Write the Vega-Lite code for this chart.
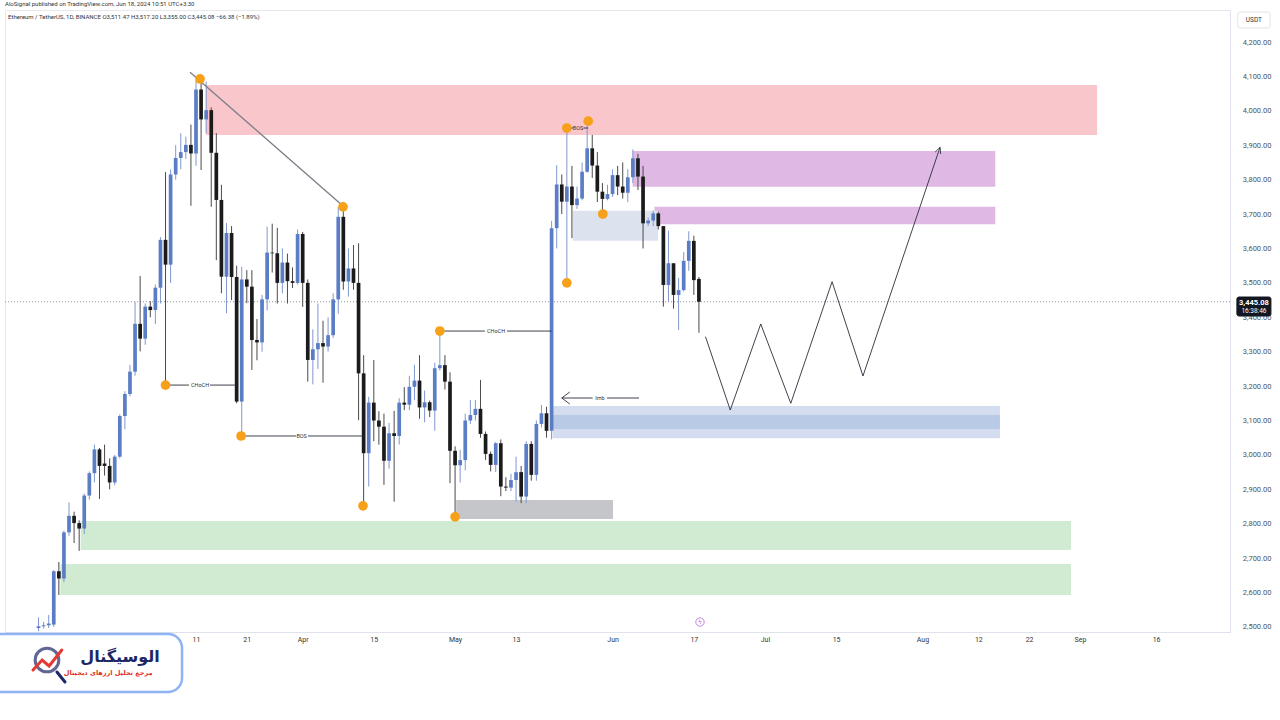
{
  "$schema": "https://vega.github.io/schema/vega-lite/v6.json",
  "width": 1225,
  "height": 622,
  "autosize": {"type": "none"},
  "padding": {"left": 5, "top": 10, "right": 50, "bottom": 88},
  "background": "white",
  "config": {"view": {"stroke": "#e6e8ee"}, "font": "Roboto", "axis": {"grid": false}, "axisY": {"labelOverlap": false}, "axisX": {"labelOverlap": false}, "bar": {"continuousBandSize": 3.7}, "scale": {"continuousPadding": 0}},
  "datasets": {
    "candles": [
      {"d":"2024-02-09","o":2497,"h":2528,"l":2488,"c":2502},
      {"d":"2024-02-10","o":2502,"h":2515,"l":2495,"c":2505},
      {"d":"2024-02-11","o":2505,"h":2535,"l":2497,"c":2510},
      {"d":"2024-02-12","o":2507,"h":2665,"l":2500,"c":2662},
      {"d":"2024-02-13","o":2662,"h":2689,"l":2593,"c":2641},
      {"d":"2024-02-14","o":2641,"h":2780,"l":2630,"c":2775},
      {"d":"2024-02-15","o":2775,"h":2862,"l":2765,"c":2823},
      {"d":"2024-02-16","o":2823,"h":2835,"l":2744,"c":2802},
      {"d":"2024-02-17","o":2802,"h":2810,"l":2721,"c":2786},
      {"d":"2024-02-18","o":2786,"h":2888,"l":2770,"c":2882},
      {"d":"2024-02-19","o":2882,"h":2952,"l":2870,"c":2947},
      {"d":"2024-02-20","o":2947,"h":3030,"l":2920,"c":3016},
      {"d":"2024-02-21","o":3016,"h":3020,"l":2872,"c":2968},
      {"d":"2024-02-22","o":2975,"h":3030,"l":2940,"c":2968},
      {"d":"2024-02-23","o":2968,"h":2990,"l":2900,"c":2920},
      {"d":"2024-02-24","o":2920,"h":3000,"l":2912,"c":2995},
      {"d":"2024-02-25","o":2995,"h":3118,"l":2990,"c":3113},
      {"d":"2024-02-26","o":3113,"h":3185,"l":3075,"c":3177},
      {"d":"2024-02-27","o":3177,"h":3262,"l":3170,"c":3242},
      {"d":"2024-02-28","o":3242,"h":3445,"l":3230,"c":3381},
      {"d":"2024-02-29","o":3381,"h":3520,"l":3301,"c":3338},
      {"d":"2024-03-01","o":3338,"h":3440,"l":3320,"c":3431},
      {"d":"2024-03-02","o":3431,"h":3447,"l":3400,"c":3421},
      {"d":"2024-03-03","o":3421,"h":3495,"l":3380,"c":3486},
      {"d":"2024-03-04","o":3486,"h":3633,"l":3440,"c":3625},
      {"d":"2024-03-05","o":3625,"h":3822,"l":3203,"c":3553},
      {"d":"2024-03-06","o":3553,"h":3830,"l":3500,"c":3815},
      {"d":"2024-03-07","o":3815,"h":3900,"l":3800,"c":3863},
      {"d":"2024-03-08","o":3863,"h":3935,"l":3830,"c":3880},
      {"d":"2024-03-09","o":3880,"h":3925,"l":3860,"c":3901},
      {"d":"2024-03-10","o":3901,"h":3960,"l":3724,"c":3876},
      {"d":"2024-03-11","o":3876,"h":4088,"l":3840,"c":4062},
      {"d":"2024-03-12","o":4062,"h":4093,"l":3828,"c":3975},
      {"d":"2024-03-13","o":3975,"h":4085,"l":3935,"c":4002},
      {"d":"2024-03-14","o":4002,"h":4010,"l":3721,"c":3878},
      {"d":"2024-03-15","o":3878,"h":3935,"l":3566,"c":3741},
      {"d":"2024-03-16","o":3741,"h":3785,"l":3470,"c":3518},
      {"d":"2024-03-17","o":3518,"h":3674,"l":3412,"c":3645},
      {"d":"2024-03-18","o":3645,"h":3665,"l":3450,"c":3517},
      {"d":"2024-03-19","o":3517,"h":3550,"l":3150,"c":3155},
      {"d":"2024-03-20","o":3155,"h":3547,"l":3055,"c":3510},
      {"d":"2024-03-21","o":3510,"h":3537,"l":3441,"c":3489},
      {"d":"2024-03-22","o":3489,"h":3537,"l":3247,"c":3334},
      {"d":"2024-03-23","o":3334,"h":3395,"l":3275,"c":3327},
      {"d":"2024-03-24","o":3327,"h":3465,"l":3300,"c":3452},
      {"d":"2024-03-25","o":3452,"h":3663,"l":3420,"c":3588},
      {"d":"2024-03-26","o":3588,"h":3672,"l":3530,"c":3586},
      {"d":"2024-03-27","o":3586,"h":3660,"l":3440,"c":3500},
      {"d":"2024-03-28","o":3500,"h":3600,"l":3470,"c":3559},
      {"d":"2024-03-29","o":3559,"h":3585,"l":3440,"c":3505},
      {"d":"2024-03-30","o":3505,"h":3545,"l":3485,"c":3500},
      {"d":"2024-03-31","o":3500,"h":3655,"l":3495,"c":3642},
      {"d":"2024-04-01","o":3642,"h":3648,"l":3430,"c":3500},
      {"d":"2024-04-02","o":3500,"h":3510,"l":3213,"c":3276},
      {"d":"2024-04-03","o":3276,"h":3365,"l":3205,"c":3307},
      {"d":"2024-04-04","o":3307,"h":3440,"l":3250,"c":3325},
      {"d":"2024-04-05","o":3325,"h":3390,"l":3210,"c":3315},
      {"d":"2024-04-06","o":3315,"h":3400,"l":3300,"c":3348},
      {"d":"2024-04-07","o":3348,"h":3470,"l":3340,"c":3452},
      {"d":"2024-04-08","o":3452,"h":3721,"l":3410,"c":3692},
      {"d":"2024-04-09","o":3692,"h":3721,"l":3480,"c":3504},
      {"d":"2024-04-10","o":3504,"h":3600,"l":3460,"c":3542},
      {"d":"2024-04-11","o":3542,"h":3610,"l":3480,"c":3500},
      {"d":"2024-04-12","o":3500,"h":3615,"l":3101,"c":3237},
      {"d":"2024-04-13","o":3237,"h":3290,"l":2852,"c":3005},
      {"d":"2024-04-14","o":3005,"h":3169,"l":2908,"c":3152},
      {"d":"2024-04-15","o":3152,"h":3276,"l":3040,"c":3100},
      {"d":"2024-04-16","o":3100,"h":3127,"l":3030,"c":3082},
      {"d":"2024-04-17","o":3082,"h":3120,"l":2913,"c":2983},
      {"d":"2024-04-18","o":2983,"h":3093,"l":2960,"c":3063},
      {"d":"2024-04-19","o":3063,"h":3128,"l":2864,"c":3055},
      {"d":"2024-04-20","o":3055,"h":3165,"l":3030,"c":3152},
      {"d":"2024-04-21","o":3152,"h":3197,"l":3130,"c":3146},
      {"d":"2024-04-22","o":3146,"h":3230,"l":3130,"c":3198},
      {"d":"2024-04-23","o":3198,"h":3262,"l":3160,"c":3216},
      {"d":"2024-04-24","o":3216,"h":3290,"l":3105,"c":3138},
      {"d":"2024-04-25","o":3138,"h":3187,"l":3095,"c":3153},
      {"d":"2024-04-26","o":3153,"h":3158,"l":3110,"c":3129},
      {"d":"2024-04-27","o":3129,"h":3268,"l":3070,"c":3252},
      {"d":"2024-04-28","o":3252,"h":3355,"l":3245,"c":3261},
      {"d":"2024-04-29","o":3261,"h":3290,"l":3190,"c":3213},
      {"d":"2024-04-30","o":3213,"h":3240,"l":2918,"c":3012},
      {"d":"2024-05-01","o":3012,"h":3025,"l":2820,"c":2970},
      {"d":"2024-05-02","o":2970,"h":3015,"l":2920,"c":2985},
      {"d":"2024-05-03","o":2985,"h":3120,"l":2955,"c":3100},
      {"d":"2024-05-04","o":3100,"h":3160,"l":3090,"c":3116},
      {"d":"2024-05-05","o":3116,"h":3160,"l":3100,"c":3134},
      {"d":"2024-05-06","o":3134,"h":3218,"l":3050,"c":3061},
      {"d":"2024-05-07","o":3061,"h":3068,"l":2985,"c":3003},
      {"d":"2024-05-08","o":3003,"h":3010,"l":2952,"c":2971},
      {"d":"2024-05-09","o":2971,"h":3038,"l":2950,"c":3034},
      {"d":"2024-05-10","o":3034,"h":3045,"l":2880,"c":2908},
      {"d":"2024-05-11","o":2908,"h":2935,"l":2895,"c":2905},
      {"d":"2024-05-12","o":2905,"h":2945,"l":2895,"c":2927},
      {"d":"2024-05-13","o":2927,"h":2995,"l":2865,"c":2950},
      {"d":"2024-05-14","o":2950,"h":2968,"l":2860,"c":2879},
      {"d":"2024-05-15","o":2879,"h":3040,"l":2860,"c":3032},
      {"d":"2024-05-16","o":3032,"h":3040,"l":2925,"c":2942},
      {"d":"2024-05-17","o":2942,"h":3100,"l":2925,"c":3090},
      {"d":"2024-05-18","o":3090,"h":3145,"l":3080,"c":3121},
      {"d":"2024-05-19","o":3121,"h":3140,"l":3050,"c":3070},
      {"d":"2024-05-20","o":3070,"h":3680,"l":3045,"c":3659},
      {"d":"2024-05-21","o":3659,"h":3842,"l":3600,"c":3786},
      {"d":"2024-05-22","o":3786,"h":3815,"l":3700,"c":3736},
      {"d":"2024-05-23","o":3736,"h":3950,"l":3500,"c":3780},
      {"d":"2024-05-24","o":3780,"h":3840,"l":3630,"c":3726},
      {"d":"2024-05-25","o":3726,"h":3780,"l":3715,"c":3745},
      {"d":"2024-05-26","o":3745,"h":3850,"l":3740,"c":3823},
      {"d":"2024-05-27","o":3823,"h":3970,"l":3820,"c":3891},
      {"d":"2024-05-28","o":3891,"h":3930,"l":3805,"c":3841},
      {"d":"2024-05-29","o":3841,"h":3880,"l":3735,"c":3765},
      {"d":"2024-05-30","o":3765,"h":3790,"l":3700,"c":3744},
      {"d":"2024-05-31","o":3744,"h":3785,"l":3740,"c":3758},
      {"d":"2024-06-01","o":3758,"h":3830,"l":3750,"c":3813},
      {"d":"2024-06-02","o":3813,"h":3840,"l":3755,"c":3780},
      {"d":"2024-06-03","o":3780,"h":3850,"l":3745,"c":3762},
      {"d":"2024-06-04","o":3762,"h":3830,"l":3735,"c":3807},
      {"d":"2024-06-05","o":3807,"h":3888,"l":3790,"c":3862},
      {"d":"2024-06-06","o":3862,"h":3875,"l":3770,"c":3809},
      {"d":"2024-06-07","o":3809,"h":3840,"l":3600,"c":3673},
      {"d":"2024-06-08","o":3673,"h":3690,"l":3665,"c":3681},
      {"d":"2024-06-09","o":3681,"h":3710,"l":3665,"c":3702},
      {"d":"2024-06-10","o":3702,"h":3707,"l":3655,"c":3665},
      {"d":"2024-06-11","o":3665,"h":3665,"l":3431,"c":3494},
      {"d":"2024-06-12","o":3494,"h":3652,"l":3445,"c":3557},
      {"d":"2024-06-13","o":3557,"h":3557,"l":3425,"c":3465},
      {"d":"2024-06-14","o":3465,"h":3515,"l":3363,"c":3479},
      {"d":"2024-06-15","o":3479,"h":3590,"l":3475,"c":3564},
      {"d":"2024-06-16","o":3564,"h":3650,"l":3535,"c":3622},
      {"d":"2024-06-17","o":3622,"h":3637,"l":3465,"c":3508},
      {"d":"2024-06-18","o":3511.47,"h":3517.2,"l":3355,"c":3445.08}
    ],
    "zones": [
      {"z":"demand","d":"2024-02-17T07:00:00Z","d2":"2024-08-30T06:00:00Z","p":2723.7,"p2":2808},
      {"z":"demand","d":"2024-02-13T07:00:00Z","d2":"2024-08-30T06:00:00Z","p":2592.9,"p2":2683},
      {"z":"supply","d":"2024-03-12T23:00:00Z","d2":"2024-09-04T09:00:00Z","p":3930,"p2":4075},
      {"z":"ob","d":"2024-06-04T23:00:00Z","d2":"2024-08-15T08:00:00Z","p":3779.5,"p2":3883.2},
      {"z":"ob","d":"2024-06-09T06:00:00Z","d2":"2024-08-15T08:00:00Z","p":3670.2,"p2":3721.4},
      {"z":"fvg","d":"2024-05-24T04:00:00Z","d2":"2024-06-09T23:00:00Z","p":3622.5,"p2":3709.7},
      {"z":"imb","d":"2024-05-20T05:00:00Z","d2":"2024-08-16T06:00:00Z","p":3048.3,"p2":3142.2},
      {"z":"imbcore","d":"2024-05-20T05:00:00Z","d2":"2024-08-16T06:00:00Z","p":3075.3,"p2":3116},
      {"z":"gap","d":"2024-05-01T05:00:00Z","d2":"2024-06-01T02:00:00Z","p":2813.8,"p2":2869}
    ],
    "segs": [
      {"s":"trend","k":"trend","i":0,"d":"2024-03-09T19:40:00Z","p":4112},
      {"s":"trend","k":"trend","i":1,"d":"2024-04-08T22:30:00Z","p":3723.4},
      {"s":"proj","k":"draw","i":0,"d":"2024-06-19T07:00:00Z","p":3343.6},
      {"s":"proj","k":"draw","i":1,"d":"2024-06-24T04:00:00Z","p":3130.5},
      {"s":"proj","k":"draw","i":2,"d":"2024-06-30T04:00:00Z","p":3380.5},
      {"s":"proj","k":"draw","i":3,"d":"2024-07-06T02:00:00Z","p":3150},
      {"s":"proj","k":"draw","i":4,"d":"2024-07-14T05:00:00Z","p":3503.4},
      {"s":"proj","k":"draw","i":5,"d":"2024-07-20T07:00:00Z","p":3229.4},
      {"s":"proj","k":"draw","i":6,"d":"2024-08-04T11:00:00Z","p":3893.9},
      {"s":"projhead","k":"draw","i":0,"d":"2024-08-03T12:00:00Z","p":3880},
      {"s":"projhead","k":"draw","i":1,"d":"2024-08-04T11:00:00Z","p":3893.9},
      {"s":"projhead","k":"draw","i":2,"d":"2024-08-04T14:00:00Z","p":3874.5},
      {"s":"choch1a","k":"draw","i":0,"d":"2024-03-05T00:00:00Z","p":3203},
      {"s":"choch1a","k":"draw","i":1,"d":"2024-03-09T15:00:00Z","p":3203},
      {"s":"choch1b","k":"draw","i":0,"d":"2024-03-13T18:00:00Z","p":3203},
      {"s":"choch1b","k":"draw","i":1,"d":"2024-03-19T00:00:00Z","p":3203},
      {"s":"bos1a","k":"draw","i":0,"d":"2024-03-19T21:00:00Z","p":3055},
      {"s":"bos1a","k":"draw","i":1,"d":"2024-03-30T17:00:00Z","p":3055},
      {"s":"bos1b","k":"draw","i":0,"d":"2024-04-02T01:00:00Z","p":3055},
      {"s":"bos1b","k":"draw","i":1,"d":"2024-04-13T00:00:00Z","p":3055},
      {"s":"choch2a","k":"draw","i":0,"d":"2024-04-28T00:00:00Z","p":3360},
      {"s":"choch2a","k":"draw","i":1,"d":"2024-05-06T21:00:00Z","p":3360},
      {"s":"choch2b","k":"draw","i":0,"d":"2024-05-11T05:00:00Z","p":3360},
      {"s":"choch2b","k":"draw","i":1,"d":"2024-05-20T00:00:00Z","p":3360},
      {"s":"bos2a","k":"draw","i":0,"d":"2024-05-23T00:00:00Z","p":3950},
      {"s":"bos2a","k":"draw","i":1,"d":"2024-05-24T05:00:00Z","p":3950},
      {"s":"bos2b","k":"draw","i":0,"d":"2024-05-26T07:00:00Z","p":3950},
      {"s":"bos2b","k":"draw","i":1,"d":"2024-05-27T05:00:00Z","p":3950},
      {"s":"imba","k":"draw","i":0,"d":"2024-05-22T00:00:00Z","p":3165.4},
      {"s":"imba","k":"draw","i":1,"d":"2024-05-28T02:00:00Z","p":3165.4},
      {"s":"imbb","k":"draw","i":0,"d":"2024-05-30T22:00:00Z","p":3165.4},
      {"s":"imbb","k":"draw","i":1,"d":"2024-06-06T05:00:00Z","p":3165.4},
      {"s":"imbhead","k":"draw","i":0,"d":"2024-05-23T14:00:00Z","p":3182.8},
      {"s":"imbhead","k":"draw","i":1,"d":"2024-05-22T00:00:00Z","p":3165.4},
      {"s":"imbhead","k":"draw","i":2,"d":"2024-05-23T14:00:00Z","p":3148}
    ],
    "pivots": [
      {"d":"2024-03-11T19:00:00Z","p":4092.5},
      {"d":"2024-03-05T00:00:00Z","p":3203},
      {"d":"2024-03-19T21:00:00Z","p":3055},
      {"d":"2024-04-08T22:30:00Z","p":3721},
      {"d":"2024-04-12T21:00:00Z","p":2852},
      {"d":"2024-04-28T00:00:00Z","p":3360},
      {"d":"2024-05-01T00:00:00Z","p":2820},
      {"d":"2024-05-23T00:00:00Z","p":3500},
      {"d":"2024-05-23T00:00:00Z","p":3950},
      {"d":"2024-05-27T05:00:00Z","p":3970},
      {"d":"2024-05-30T02:00:00Z","p":3700}
    ],
    "labels": [
      {"t":"CHoCH","d":"2024-03-11T19:00:00Z","p":3203},
      {"t":"BOS","d":"2024-03-31T19:00:00Z","p":3055},
      {"t":"CHoCH","d":"2024-05-09T01:30:00Z","p":3360},
      {"t":"BOS","d":"2024-05-25T05:00:00Z","p":3950},
      {"t":"Imb","d":"2024-05-29T12:00:00Z","p":3165.4}
    ],
    "header": [
      {"t":"AloSignal published on TradingView.com, Jun 18, 2024 10:51 UTC+3:30","d":"2024-02-02T09:36:00Z","p":4310.4},
      {"t":"Ethereum / TetherUS, 1D, BINANCE  O3,511.47  H3,517.20  L3,355.00  C3,445.08  −66.38 (−1.89%)","d":"2024-02-03T00:00:00Z","p":4272.7}
    ],
    "boxes": [
      {"b":"usdt","d":"2024-10-02T02:00:00Z","d2":"2024-10-08T10:00:00Z","p":4240.7,"p2":4287.2},
      {"b":"price","d":"2024-10-01T21:36:00Z","d2":"2024-10-08T14:24:00Z","p":3403.7,"p2":3458.9}
    ],
    "logo": [
      {"d":"2024-01-10T00:00:00Z","d2":"2024-03-08T06:00:00Z","p":2311,"p2":2479.6}
    ],
    "logolines": [
      {"s":"handle","i":0,"d":"2024-02-12T15:00:00Z","p":2369.1},
      {"s":"handle","i":1,"d":"2024-02-14T05:00:00Z","p":2340},
      {"s":"zig","i":0,"d":"2024-02-07T22:00:00Z","p":2374.9},
      {"s":"zig","i":1,"d":"2024-02-09T17:00:00Z","p":2404},
      {"s":"zig","i":2,"d":"2024-02-11T02:00:00Z","p":2386.6},
      {"s":"zig","i":3,"d":"2024-02-13T14:00:00Z","p":2433.1}
    ]
  },
  "layer": [
    {
      "data": {"name": "zones"},
      "mark": {"type": "rect"},
      "encoding": {
        "x": {
          "field": "d", "type": "temporal", "title": null,
          "scale": {"type": "utc", "padding": 0, "clamp": false, "domain": [{"year":2024,"month":2,"date":2,"hours":9,"minutes":36,"utc":true},{"year":2024,"month":9,"date":30,"hours":13,"utc":true}]},
          "axis": {
            "title": null, "tickCount": 40,
            "values": [
              {"year":2024,"month":3,"date":11,"utc":true},
              {"year":2024,"month":3,"date":21,"utc":true},
              {"year":2024,"month":4,"date":1,"utc":true},
              {"year":2024,"month":4,"date":15,"utc":true},
              {"year":2024,"month":5,"date":1,"utc":true},
              {"year":2024,"month":5,"date":13,"utc":true},
              {"year":2024,"month":6,"date":1,"utc":true},
              {"year":2024,"month":6,"date":17,"utc":true},
              {"year":2024,"month":7,"date":1,"utc":true},
              {"year":2024,"month":7,"date":15,"utc":true},
              {"year":2024,"month":8,"date":1,"utc":true},
              {"year":2024,"month":8,"date":12,"utc":true},
              {"year":2024,"month":8,"date":22,"utc":true},
              {"year":2024,"month":9,"date":1,"utc":true},
              {"year":2024,"month":9,"date":16,"utc":true}
            ],
            "labelExpr": "utcFormat(datum.value,'%d')=='01' ? utcFormat(datum.value,'%b') : utcFormat(datum.value,'%-d')",
            "tickSize": 0, "labelFontSize": 7, "labelColor": "#333333", "labelPadding": 3,
            "domainColor": "#e0e3eb", "labelOverlap": false, "labelFlush": false, "grid": false
          }
        },
        "x2": {"field": "d2"},
        "y": {
          "field": "p", "type": "quantitative", "title": null,
          "scale": {"domain": [2485.4, 4293], "nice": false, "zero": false, "padding": 0},
          "axis": {
            "title": null, "orient": "right", "tickCount": 40,
            "values": [2500,2600,2700,2800,2900,3000,3100,3200,3300,3400,3500,3600,3700,3800,3900,4000,4100,4200],
            "format": ",.2f", "labelAlign": "right", "labelPadding": 41, "tickSize": 0, "labelBound": false,
            "labelFontSize": 7.5, "labelColor": "#555555", "domainColor": "#e0e3eb", "grid": false, "labelOverlap": false
          }
        },
        "y2": {"field": "p2"},
        "color": {
          "field": "z", "type": "nominal", "legend": null,
          "scale": {"domain": ["demand","supply","ob","fvg","imb","imbcore","gap"], "range": ["#d1ebd3","#f9c6cb","#dfb9e4","#dce3ef","#d3ddef","#b8cae5","#c5c6ca"]}
        }
      }
    },
    {
      "data": {"values": [{"p": 3445.08}]},
      "mark": {"type": "rule", "color": "#8d919c", "strokeDash": [1, 2], "strokeWidth": 1},
      "encoding": {"y": {"field": "p", "type": "quantitative", "title": null}}
    },
    {
      "data": {"name": "candles"},
      "mark": {"type": "rule", "strokeWidth": 1},
      "encoding": {
        "x": {"field": "d", "type": "temporal", "title": null},
        "y": {"field": "l", "type": "quantitative", "title": null},
        "y2": {"field": "h"},
        "color": {"condition": {"test": "datum.c >= datum.o", "value": "#7f98cf"}, "value": "#4a4a4a"}
      }
    },
    {
      "data": {"name": "candles"},
      "mark": {"type": "bar", "size": 3.7},
      "encoding": {
        "x": {"field": "d", "type": "temporal", "title": null},
        "y": {"field": "o", "type": "quantitative", "title": null},
        "y2": {"field": "c"},
        "color": {"condition": {"test": "datum.c >= datum.o", "value": "#5a7dc6"}, "value": "#1b1b1b"}
      }
    },
    {
      "data": {"name": "segs"},
      "mark": {"type": "line"},
      "encoding": {
        "x": {"field": "d", "type": "temporal", "title": null},
        "y": {"field": "p", "type": "quantitative", "title": null},
        "detail": {"field": "s"},
        "order": {"field": "i"},
        "color": {"condition": {"test": "datum.k === 'trend'", "value": "#7b7e87"}, "value": "#2a2e39"},
        "strokeWidth": {"condition": {"test": "datum.k === 'trend'", "value": 1.3}, "value": 0.9}
      }
    },
    {
      "data": {"name": "pivots"},
      "mark": {"type": "point", "filled": true, "color": "#f7a11a", "opacity": 1, "size": 95},
      "encoding": {
        "x": {"field": "d", "type": "temporal", "title": null},
        "y": {"field": "p", "type": "quantitative", "title": null}
      }
    },
    {
      "data": {"name": "labels"},
      "mark": {"type": "text", "fontSize": 5.5, "color": "#333333", "baseline": "middle", "align": "center"},
      "encoding": {
        "x": {"field": "d", "type": "temporal", "title": null},
        "y": {"field": "p", "type": "quantitative", "title": null},
        "text": {"field": "t"}
      }
    },
    {
      "data": {"values": [{"d": "2024-06-18T05:00:00Z", "p": 2514.5}]},
      "mark": {"type": "point", "filled": false, "color": "#a851d6", "size": 70, "strokeWidth": 1},
      "encoding": {
        "x": {"field": "d", "type": "temporal", "title": null},
        "y": {"field": "p", "type": "quantitative", "title": null}
      }
    },
    {
      "data": {"values": [{"d": "2024-06-18T05:00:00Z", "p": 2514.5, "t": "ϟ"}]},
      "mark": {"type": "text", "fontSize": 6, "color": "#a851d6", "baseline": "middle", "align": "center", "font": "DejaVu Sans"},
      "encoding": {
        "x": {"field": "d", "type": "temporal", "title": null},
        "y": {"field": "p", "type": "quantitative", "title": null},
        "text": {"field": "t"}
      }
    },
    {
      "data": {"name": "header"},
      "mark": {"type": "text", "fontSize": 6, "color": "#333333", "baseline": "middle", "align": "left"},
      "encoding": {
        "x": {"field": "d", "type": "temporal", "title": null},
        "y": {"field": "p", "type": "quantitative", "title": null},
        "text": {"field": "t"}
      }
    },
    {
      "data": {"name": "boxes"},
      "mark": {"type": "rect", "cornerRadius": 2},
      "encoding": {
        "x": {"field": "d", "type": "temporal", "title": null},
        "x2": {"field": "d2"},
        "y": {"field": "p", "type": "quantitative", "title": null},
        "y2": {"field": "p2"},
        "fill": {"condition": {"test": "datum.b === 'price'", "value": "#131722"}, "value": "#ffffff"},
        "stroke": {"condition": {"test": "datum.b === 'price'", "value": "#131722"}, "value": "#e0e3eb"}
      }
    },
    {
      "data": {"values": [{"t": "USDT", "d": "2024-10-05T06:00:00Z", "p": 4263.9}]},
      "mark": {"type": "text", "fontSize": 6.5, "color": "#333333", "baseline": "middle", "align": "center"},
      "encoding": {
        "x": {"field": "d", "type": "temporal", "title": null},
        "y": {"field": "p", "type": "quantitative", "title": null},
        "text": {"field": "t"}
      }
    },
    {
      "data": {"values": [{"t": "3,445.08", "d": "2024-10-05T06:00:00Z", "p": 3441.5}]},
      "mark": {"type": "text", "fontSize": 7.5, "fontWeight": "bold", "color": "#ffffff", "baseline": "middle", "align": "center"},
      "encoding": {
        "x": {"field": "d", "type": "temporal", "title": null},
        "y": {"field": "p", "type": "quantitative", "title": null},
        "text": {"field": "t"}
      }
    },
    {
      "data": {"values": [{"t": "16:38:46", "d": "2024-10-05T06:00:00Z", "p": 3418.3}]},
      "mark": {"type": "text", "fontSize": 6.5, "color": "#ffffff", "baseline": "middle", "align": "center"},
      "encoding": {
        "x": {"field": "d", "type": "temporal", "title": null},
        "y": {"field": "p", "type": "quantitative", "title": null},
        "text": {"field": "t"}
      }
    },
    {
      "data": {"name": "logo"},
      "mark": {"type": "rect", "cornerRadius": 14, "fill": "#ffffff", "stroke": "#8fb3f5", "strokeWidth": 2.5},
      "encoding": {
        "x": {"field": "d", "type": "temporal", "title": null},
        "x2": {"field": "d2"},
        "y": {"field": "p", "type": "quantitative", "title": null},
        "y2": {"field": "p2"}
      }
    },
    {
      "data": {"values": [{"d": "2024-02-10T16:00:00Z", "p": 2404}]},
      "mark": {"type": "point", "filled": false, "color": "#1d2766", "size": 560, "strokeWidth": 3},
      "encoding": {
        "x": {"field": "d", "type": "temporal", "title": null},
        "y": {"field": "p", "type": "quantitative", "title": null}
      }
    },
    {
      "data": {"name": "logolines"},
      "mark": {"type": "line", "strokeWidth": 3, "strokeCap": "round"},
      "encoding": {
        "x": {"field": "d", "type": "temporal", "title": null},
        "y": {"field": "p", "type": "quantitative", "title": null},
        "detail": {"field": "s"},
        "order": {"field": "i"},
        "color": {"condition": {"test": "datum.s === 'zig'", "value": "#e53935"}, "value": "#1d2766"}
      }
    },
    {
      "data": {"values": [{"t": "الوسیگنال", "d": "2024-02-25T01:00:00Z", "p": 2412}]},
      "mark": {"type": "text", "fontSize": 16, "fontWeight": "bold", "font": "DejaVu Sans", "color": "#1d2766", "baseline": "middle", "align": "center"},
      "encoding": {
        "x": {"field": "d", "type": "temporal", "title": null},
        "y": {"field": "p", "type": "quantitative", "title": null},
        "text": {"field": "t"}
      }
    },
    {
      "data": {"values": [{"t": "مرجع تحلیل ارزهای دیجیتال", "d": "2024-02-22T17:00:00Z", "p": 2366.2}]},
      "mark": {"type": "text", "fontSize": 6.5, "fontWeight": "bold", "font": "DejaVu Sans", "color": "#e0312b", "baseline": "middle", "align": "center"},
      "encoding": {
        "x": {"field": "d", "type": "temporal", "title": null},
        "y": {"field": "p", "type": "quantitative", "title": null},
        "text": {"field": "t"}
      }
    }
  ]
}
